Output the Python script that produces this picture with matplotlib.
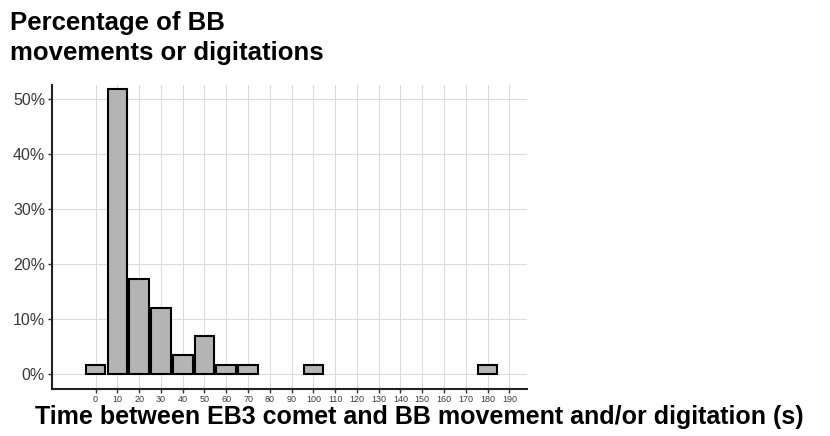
import matplotlib
matplotlib.use("Agg")
import matplotlib.pyplot as plt
from matplotlib.ticker import FuncFormatter

# Histogram of delays (s), binned in 10 s steps
bin_centers = [0, 10, 20, 30, 40, 50, 60, 70, 100, 180]
percentages = [1.72, 51.72, 17.24, 12.07, 3.45, 6.90, 1.72, 1.72, 1.72, 1.72]
x_ticks = list(range(0, 200, 10))
y_ticks = [0, 10, 20, 30, 40, 50]

plt.rcParams['font.family'] = ['Liberation Sans', 'DejaVu Sans']

fig = plt.figure(figsize=(8.3, 4.36), dpi=100)
ax = fig.add_axes([0.0627, 0.108, 0.572, 0.697])

ax.bar(bin_centers, percentages, width=9, color='#b4b4b4',
       edgecolor='black', linewidth=1.5, zorder=3)

ax.set_xlim(-20, 198)
ax.set_ylim(-2.7, 52.5)
ax.set_xticks(x_ticks)
ax.set_yticks(y_ticks)
ax.yaxis.set_major_formatter(FuncFormatter(lambda v, p: f"{int(v)}%"))
ax.tick_params(axis='x', labelsize=6.5, length=3, width=1, pad=1.5,
               color='#333333', labelcolor='#3a3a3a')
ax.tick_params(axis='y', labelsize=11.5, length=3, width=1, pad=2,
               color='#333333', labelcolor='#3a3a3a')

ax.grid(True, color='#dcdcdc', linewidth=0.8, zorder=0)
for s in ['top', 'right']:
    ax.spines[s].set_visible(False)
for s in ['left', 'bottom']:
    ax.spines[s].set_linewidth(1.5)
    ax.spines[s].set_color('#222222')

# Two-line y-axis title placed above the plot
title_style = dict(ha='left', va='baseline', fontsize=18.5, fontweight='bold')
fig.text(0.012, 0.931, "Percentage of BB", **title_style)
fig.text(0.012, 0.862, "movements or digitations", **title_style)

fig.text(0.505, 0.0275, "Time between EB3 comet and BB movement and/or digitation (s)",
         ha='center', va='baseline', fontsize=18, fontweight='bold')

fig.savefig("out.png", dpi=100)
